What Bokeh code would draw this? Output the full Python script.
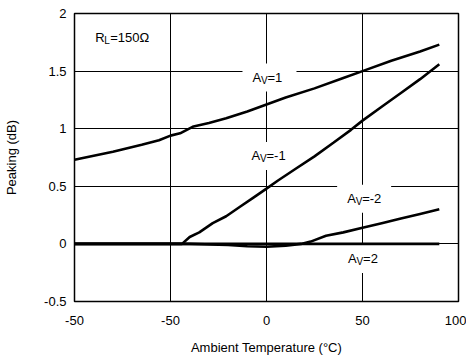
from bokeh.plotting import figure
from bokeh.models import FixedTicker, ColumnDataSource
from bokeh.core.properties import value
from bokeh.embed import file_html
from bokeh.resources import INLINE

# ---- data ----
x_av1 = [-100, -80, -65, -56, -50, -45, -38, -30, -21, -10, 0, 10, 25, 40, 50, 65, 80, 90]
y_av1 = [0.73, 0.80, 0.86, 0.90, 0.94, 0.96, 1.02, 1.05, 1.09, 1.15, 1.21, 1.27, 1.35, 1.44, 1.50, 1.59, 1.67, 1.73]

x_avm1 = [-100, -44, -40, -35, -28, -21, -14, -7, 0, 6, 15, 25, 35, 44, 50, 60, 70, 80, 90]
y_avm1 = [0, 0, 0.06, 0.10, 0.18, 0.24, 0.32, 0.40, 0.48, 0.55, 0.65, 0.76, 0.88, 0.99, 1.07, 1.19, 1.31, 1.43, 1.56]

x_avm2 = [-100, -40, -20, -10, 0, 10, 18, 23, 31, 40, 50, 60, 70, 80, 90]
y_avm2 = [0, 0, -0.01, -0.02, -0.025, -0.015, 0, 0.02, 0.07, 0.10, 0.14, 0.18, 0.22, 0.26, 0.30]

x_av2 = [-100, -50, 0, 50, 90]
y_av2 = [0, 0, 0, 0, 0]

x_ticks = [-100, -50, 0, 50, 100]
x_tick_labels = ["-50", "-50", "0", "50", "100"]
y_ticks = [-0.5, 0, 0.5, 1, 1.5, 2]
y_tick_labels = ["-0.5", "0", "0.5", "1", "1.5", "2"]

curve_labels = ["=1", "=-1", "=-2", "=2"]
label_x = [-7.3, -7.8, 42.0, 42.5]
label_y = [1.445, 0.764, 0.393, -0.13]

rl_x = [-89.2]
rl_y = [1.79]

FONT = "Liberation Sans"
FS = "13px"
SUB = "10px"

p = figure(width=466, height=358, x_range=(-100, 100), y_range=(-0.5, 2),
           output_backend="svg", toolbar_location=None,
           min_border_left=74, min_border_right=8, min_border_top=13, min_border_bottom=57)

p.outline_line_color = "black"
p.outline_line_width = 1.5
p.background_fill_color = "white"
p.border_fill_color = "white"

for ax in (p.xaxis, p.yaxis):
    ax.axis_line_color = None
    ax.major_tick_line_color = None
    ax.minor_tick_line_color = None
    ax.major_tick_out = 0
    ax.major_tick_in = 0
    ax.minor_tick_out = 0
    ax.minor_tick_in = 0
    ax.major_label_text_font = FONT
    ax.major_label_text_font_size = FS
    ax.major_label_text_color = "black"
    ax.axis_label_text_font = FONT
    ax.axis_label_text_font_size = FS
    ax.axis_label_text_font_style = "normal"
    ax.axis_label_text_color = "black"

p.xaxis.ticker = FixedTicker(ticks=x_ticks)
p.xaxis.major_label_overrides = {t: l for t, l in zip(x_ticks, x_tick_labels)}
p.yaxis.ticker = FixedTicker(ticks=y_ticks)
p.yaxis.major_label_overrides = {t: l for t, l in zip(y_ticks, y_tick_labels)}
p.xaxis.axis_label = "Ambient Temperature (°C)"
p.yaxis.axis_label = "Peaking (dB)"
p.xaxis.major_label_standoff = 14
p.yaxis.major_label_standoff = 8
p.xaxis.axis_label_standoff = 12
p.yaxis.axis_label_standoff = 22

p.xgrid.grid_line_color = "black"
p.ygrid.grid_line_color = "black"
p.xgrid.grid_line_width = 1
p.ygrid.grid_line_width = 1
p.xgrid.grid_line_alpha = 1
p.ygrid.grid_line_alpha = 1

# white boxes behind curve labels (cover grid lines)
box_src = ColumnDataSource(dict(x=[x + 17 * 50 / 96 for x in label_x], y=label_y))
p.rect(x="x", y="y", width=54, height=28, width_units="screen", height_units="screen",
       fill_color="white", line_color=None, source=box_src)

# curves
for xs, ys in ((x_av1, y_av1), (x_avm1, y_avm1), (x_avm2, y_avm2), (x_av2, y_av2)):
    p.line(xs, ys, line_color="black", line_width=2.6)

# curve labels A_V=...
src = ColumnDataSource(dict(x=label_x, y=label_y, t=curve_labels))
p.text(x="x", y="y", text=value("A"), text_font=value(FONT), text_font_size=FS,
       text_baseline="middle", text_align="left", text_color="black", source=src)
p.text(x="x", y="y", text=value("V"), text_font=value(FONT), text_font_size=SUB,
       text_baseline="middle", text_align="left", text_color="black", x_offset=8.5, y_offset=3, source=src)
p.text(x="x", y="y", text="t", text_font=value(FONT), text_font_size=FS,
       text_baseline="middle", text_align="left", text_color="black", x_offset=15, source=src)

# R_L = 150 Ω
p.text(x=rl_x, y=rl_y, text=["R"], text_font=value(FONT), text_font_size=FS,
       text_baseline="middle", text_align="left", text_color="black")
p.text(x=rl_x, y=rl_y, text=["L"], text_font=value(FONT), text_font_size=SUB,
       text_baseline="middle", text_align="left", text_color="black", x_offset=9, y_offset=3)
p.text(x=rl_x, y=rl_y, text=["=150Ω"], text_font=value(FONT), text_font_size=FS,
       text_baseline="middle", text_align="left", text_color="black", x_offset=15)

open("out.html", "w").write(file_html(p, INLINE))
